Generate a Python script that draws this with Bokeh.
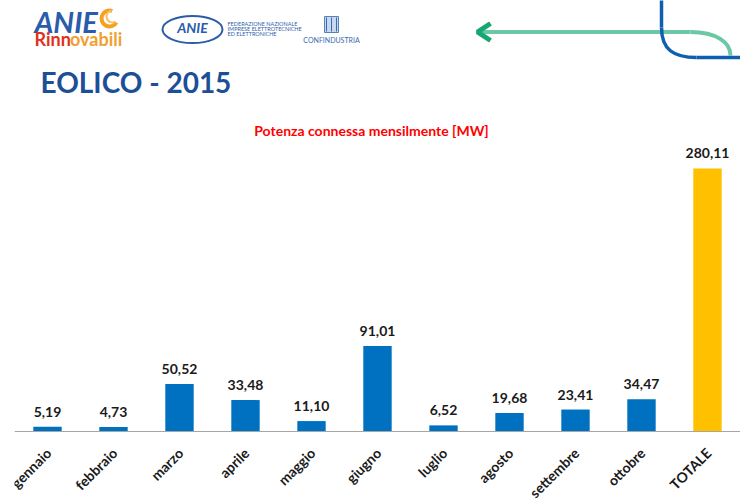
import math
from bokeh.plotting import figure
from bokeh.layouts import column
from bokeh.models import Range1d, FactorRange, ColumnDataSource, Label, LabelSet, Span
from bokeh.core.properties import value
from bokeh.embed import file_html
from bokeh.resources import INLINE

# ---- data ----
months = ["gennaio", "febbraio", "marzo", "aprile", "maggio", "giugno",
          "luglio", "agosto", "settembre", "ottobre", "TOTALE"]
power_mw = [5.19, 4.73, 50.52, 33.48, 11.10, 91.01, 6.52, 19.68, 23.41, 34.47, 280.11]
value_labels = ["5,19", "4,73", "50,52", "33,48", "11,10", "91,01",
                "6,52", "19,68", "23,41", "34,47", "280,11"]
chart_title = "Potenza connessa mensilmente [MW]"
page_title = "EOLICO - 2015"

BLUE = "#0070C0"
GOLD = "#FFC000"
bar_colors = [BLUE] * (len(months) - 1) + [GOLD]

W = 740
HH = 140
HC = 361
LEFT = 14

# ---- header (decorations, pixel coordinates of the page) ----
h = figure(width=W, height=HH, x_range=Range1d(LEFT, W), y_range=Range1d(HH, 0),
           toolbar_location=None, output_backend="svg", min_border=0, min_border_left=LEFT,
           x_axis_location=None, y_axis_location=None)
h.grid.visible = False
h.outline_line_color = None

def lab(x, y, t, size, color, style="bold", align="left", font="Lato"):
    h.add_layout(Label(x=x, y=y, text=t, text_font=font, text_font_size=size,
                       text_font_style=style, text_color=color, text_align=align,
                       text_baseline="middle"))

# ANIE Rinnovabili logo
lab(34, 21, "ANIE", "29px", "#2A5CAA", "bold italic")
h.arc(x=[109], y=[18], radius=8, start_angle=math.radians(70), end_angle=math.radians(330),
      line_color="#F5A020", line_width=4)
h.arc(x=[112], y=[16], radius=6, start_angle=math.radians(100), end_angle=math.radians(300),
      line_color="#F8C060", line_width=2)
lab(34, 38, "Rinn", "18px", "#E0301E")
lab(69.5, 38, "ovabili", "18px", "#F0A030")

# Federazione ANIE logo
h.ellipse(x=[192], y=[29], width=60, height=27, fill_color=None, line_color="#2A5CAA", line_width=2)
lab(192, 27, "ANIE", "14px", "#2A5CAA", "bold italic", "center")
fed_lines = ["FEDERAZIONE NAZIONALE", "IMPRESE ELETTROTECNICHE", "ED ELETTRONICHE"]
for i, t in enumerate(fed_lines):
    lab(227, 23 + i * 5, t, "5.5px", "#3060A8", "normal")

# Confindustria logo
h.rect(x=[331], y=[24], width=14, height=16, fill_color="#C8D8EE", line_color="#5A80B8", line_width=1)
h.segment(x0=[326, 331, 336], y0=[17, 17, 17], x1=[326, 331, 336], y1=[31, 31, 31],
          line_color="#3A6AB0", line_width=1)
lab(331, 39.5, "CONFINDUSTRIA", "7px", "#3A6AB0", "normal", "center")

# Page title
lab(40, 81, page_title, "28px", "#1C4F96")

# Green arrow
h.segment(x0=[479], y0=[31.5], x1=[690], y1=[31.5], line_color="#6CC7A5", line_width=4)
h.bezier(x0=[690], y0=[31.5], x1=[730], y1=[55], cx0=[716], cy0=[31.5],
         cx1=[730], cy1=[42], line_color="#6CC7A5", line_width=4)
h.line(x=[490, 477, 490], y=[23, 31.5, 40], line_color="#17A673", line_width=5)

# Blue line
h.segment(x0=[661], y0=[-2], x1=[661], y1=[27], line_color="#0F5FAF", line_width=3.5)
h.bezier(x0=[661], y0=[27], x1=[696], y1=[57], cx0=[661], cy0=[49],
         cx1=[673], cy1=[57], line_color="#0F5FAF", line_width=3.5)
h.segment(x0=[696], y0=[57], x1=[745], y1=[57], line_color="#0F5FAF", line_width=3.5)

# Chart title
lab(371, 129.5, chart_title, "14px", "#FF0000", "bold", "center")

# ---- chart ----
PX_PER_UNIT = 0.939
BASE = 431 - HH           # baseline position inside chart canvas
y_end = BASE / PX_PER_UNIT
y_start = -(HC - BASE) / PX_PER_UNIT

src = ColumnDataSource(dict(month=months, val=power_mw, lab=value_labels, color=bar_colors,
                            zero=[0] * len(months)))

p = figure(width=W, height=HC, x_range=FactorRange(*months), y_range=Range1d(y_start, y_end),
           toolbar_location=None, output_backend="svg",
           x_axis_location=None, y_axis_location=None,
           min_border_left=LEFT, min_border_right=0, min_border_top=0, min_border_bottom=0)
p.grid.visible = False
p.outline_line_color = None

# axis line
p.add_layout(Span(location=0, dimension="width", line_color="#A6A6A6", line_width=1.2))

p.vbar(x="month", top="val", bottom=0, width=0.43, source=src, fill_color="color", line_color=None)

p.add_layout(LabelSet(x="month", y="val", text="lab", source=src, text_align="center",
                      text_baseline="bottom", y_offset=10, text_font=value("Lato"),
                      text_font_size="14px", text_font_style="bold", text_color="#1A1A1A"))

# category labels (rotated 45 degrees)
p.add_layout(LabelSet(x="month", y="zero", text="month", source=src, angle=math.pi / 4,
                      text_align="right", text_baseline="middle", x_offset=1, y_offset=-19,
                      text_font=value("Lato"), text_font_size="14px", text_font_style="bold",
                      text_color="#1A1A1A"))

layout = column(h, p, spacing=0)
open("out.html", "w").write(file_html(layout, INLINE))
